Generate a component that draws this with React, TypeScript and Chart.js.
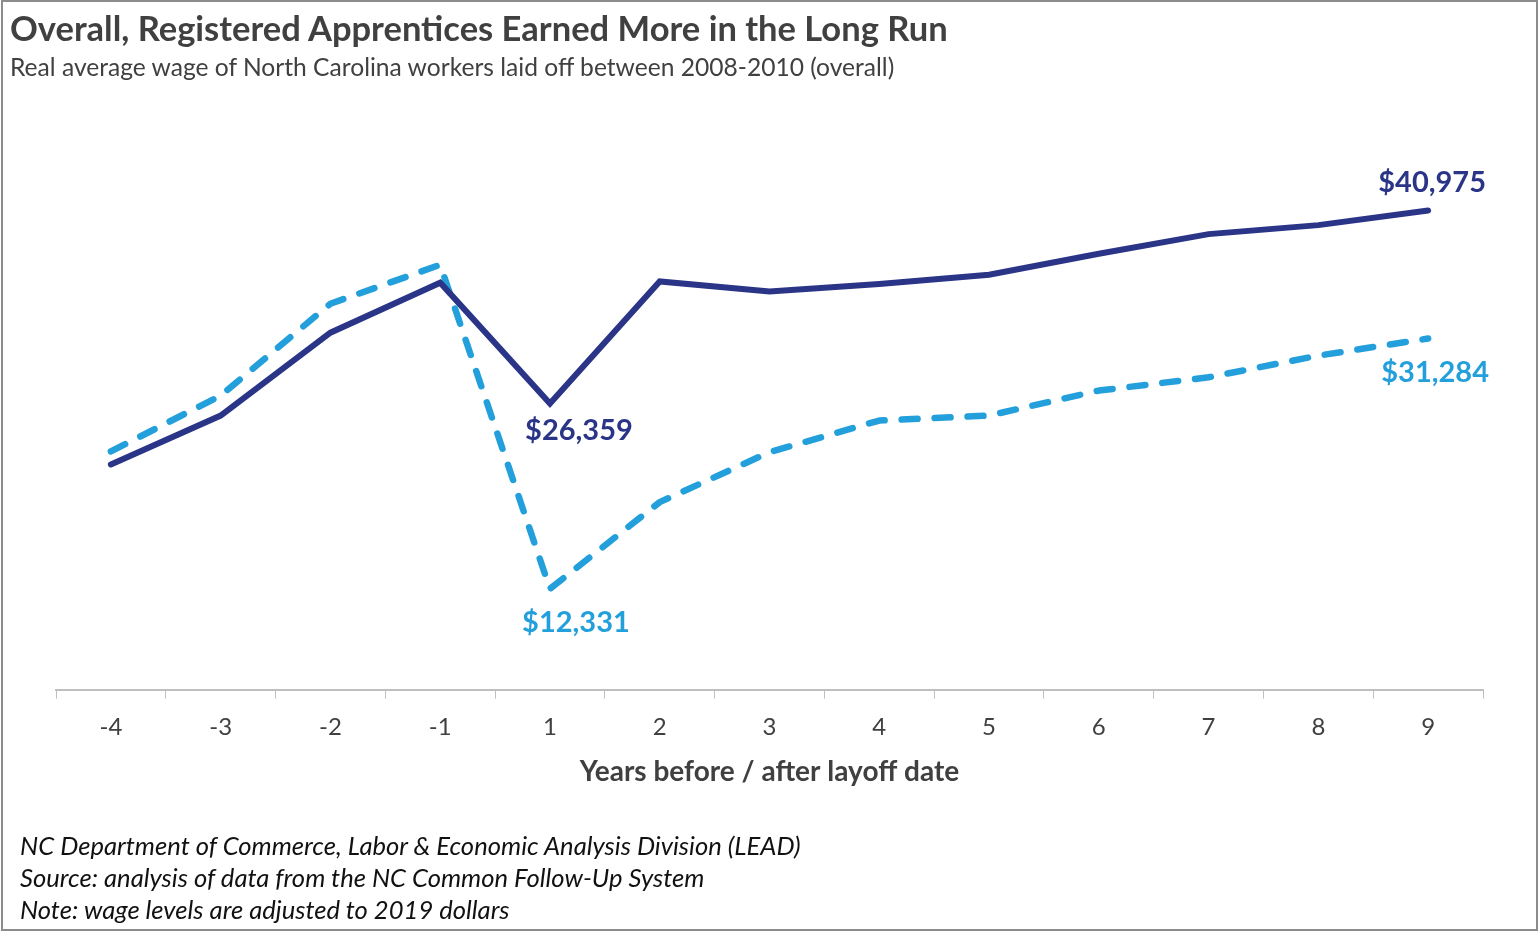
import React, { useEffect, useRef } from "react";
import { Chart, registerables } from "chart.js";

Chart.register(...registerables);

const years = ["-4", "-3", "-2", "-1", "1", "2", "3", "4", "5", "6", "7", "8", "9"];
const apprenticeWages = [21747, 25452, 31727, 35507, 26359, 35605, 34849, 35408, 36111, 37699, 39188, 39869, 40975];
const otherWages = [22730, 26964, 33919, 36867, 12331, 18897, 22677, 25074, 25452, 27342, 28347, 29988, 31284];
// which points carry a value label: [datasetIndex, pointIndex]
const labelledPoints: [number, number][] = [
  [0, 4],
  [0, 12],
  [1, 4],
  [1, 12],
];

const FONT = "Lato, 'Open Sans', sans-serif";
const DARK = "#2B3587";
const LIGHT = "#23A0DB";
const TEXT = "#404040";

// label placement (style only): offsets from the point, in px
const labelOffsets: Record<string, [number, number]> = {
  "0-4": [29, 27],
  "0-12": [4, -28],
  "1-4": [26, 34],
  "1-12": [7, 34],
};

const valueLabelPlugin = {
  id: "valueLabels",
  afterDatasetsDraw(chart: any) {
    const ctx = chart.ctx;
    ctx.save();
    ctx.font = `bold 29px ${FONT}`;
    ctx.textAlign = "center";
    ctx.textBaseline = "middle";
    for (const [di, pi] of labelledPoints) {
      const meta = chart.getDatasetMeta(di);
      const el = meta.data[pi];
      const ds = chart.data.datasets[di];
      const v = ds.data[pi] as number;
      const off = labelOffsets[`${di}-${pi}`] || [0, 0];
      ctx.fillStyle = ds.borderColor;
      ctx.fillText("$" + v.toLocaleString("en-US"), el.x + off[0], el.y + off[1]);
    }
    ctx.restore();
  },
};

export default function App() {
  const canvasRef = useRef<HTMLCanvasElement>(null);

  useEffect(() => {
    document.body.style.margin = "0";
    const canvas = canvasRef.current!;
    const chart = new Chart(canvas, {
      type: "line",
      data: {
        labels: years,
        datasets: [
          {
            label: "Registered apprentices",
            data: apprenticeWages,
            borderColor: DARK,
            backgroundColor: DARK,
            borderWidth: 6,
            borderCapStyle: "round",
            borderJoinStyle: "miter",
            pointRadius: 0,
            tension: 0,
          },
          {
            label: "Other workers",
            data: otherWages,
            borderColor: LIGHT,
            backgroundColor: LIGHT,
            borderWidth: 6.5,
            borderDash: [16, 17],
            borderCapStyle: "round",
            borderJoinStyle: "round",
            pointRadius: 0,
            tension: 0,
          },
        ],
      },
      options: {
        responsive: false,
        animation: false,
        devicePixelRatio: 1,
        layout: { padding: { left: 56, right: 57, top: 160, bottom: 144 } },
        plugins: {
          legend: { display: false },
          tooltip: { enabled: false },
          title: { display: false },
        },
        scales: {
          x: {
            type: "category",
            offset: true,
            grid: {
              offset: true,
              drawOnChartArea: false,
              drawTicks: true,
              tickLength: 9,
              color: "#bfbfbf",
              lineWidth: 1,
            },
            border: { display: true, color: "#bfbfbf", width: 2 },
            ticks: {
              color: TEXT,
              font: { family: FONT, size: 24 },
              padding: 14,
              maxRotation: 0,
              autoSkip: false,
            },
            title: {
              display: true,
              text: "Years before / after layoff date",
              color: TEXT,
              font: { family: FONT, size: 28, weight: "bold" },
              padding: { top: 0, bottom: 0 },
            },
          },
          y: { display: false, min: 4700, max: 44800 },
        },
      },
      plugins: [valueLabelPlugin],
    } as any);
    return () => chart.destroy();
  }, []);

  return (
    <div style={{ position: "relative", width: 1540, height: 933, background: "#fff", overflow: "hidden" }}>
      <canvas
        ref={canvasRef}
        width={1540}
        height={933}
        style={{ position: "absolute", left: 0, top: 0, width: 1540, height: 933 }}
      />
      <div
        style={{
          position: "absolute",
          left: 1,
          top: 0,
          width: 1537,
          height: 931,
          boxSizing: "border-box",
          border: "2px solid #8c8c8c",
          pointerEvents: "none",
        }}
      />
      <div
        style={{
          position: "absolute",
          left: 10,
          top: 10,
          fontFamily: FONT,
          fontWeight: "bold",
          fontSize: 34.5,
          lineHeight: "36px",
          color: TEXT,
          whiteSpace: "nowrap",
        }}
      >
        Overall, Registered Apprentices Earned More in the Long Run
      </div>
      <div
        style={{
          position: "absolute",
          left: 10,
          top: 53,
          fontFamily: FONT,
          fontSize: 24.6,
          lineHeight: "28px",
          color: TEXT,
          whiteSpace: "nowrap",
        }}
      >
        Real average wage of North Carolina workers laid off between 2008-2010 (overall)
      </div>
      <div
        style={{
          position: "absolute",
          left: 20,
          top: 829,
          fontFamily: FONT,
          fontStyle: "italic",
          fontSize: 25.6,
          lineHeight: "32px",
          color: "#111",
          whiteSpace: "nowrap",
        }}
      >
        <div>NC Department of Commerce, Labor &amp; Economic Analysis Division (LEAD)</div>
        <div>Source: analysis of data from the NC Common Follow-Up System</div>
        <div>Note: wage levels are adjusted to 2019 dollars</div>
      </div>
    </div>
  );
}
